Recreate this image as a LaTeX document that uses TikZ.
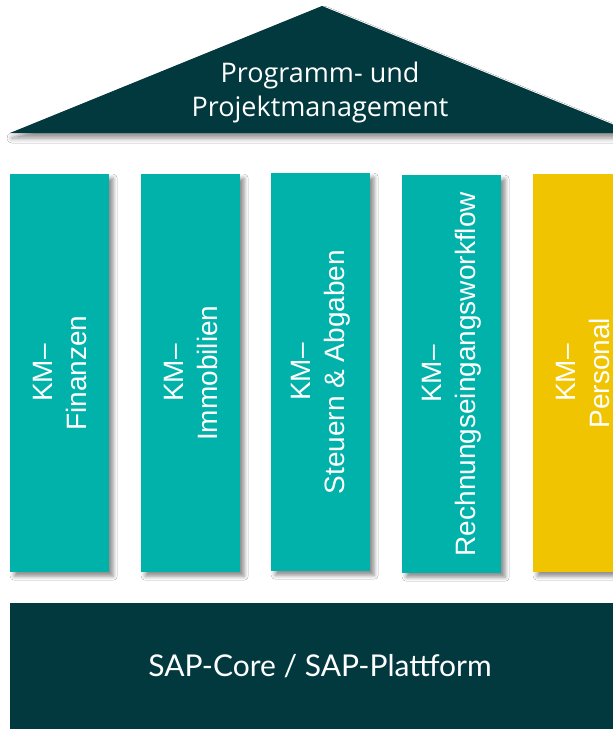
\documentclass[tikz,border=0pt]{standalone}
\usepackage{fontspec}
\setmainfont{Liberation Sans}
\newfontfamily\latofont{Lato}
\newfontfamily\openfont{Open Sans}
\usetikzlibrary{shadows.blur}
\definecolor{darkteal}{HTML}{02393F}
\definecolor{tealc}{HTML}{00B2A9}
\definecolor{goldc}{HTML}{F0C400}
\begin{document}
\begin{tikzpicture}[x=1pt,y=-1pt,
  softshadow/.style={blur shadow={shadow xshift=4pt, shadow yshift=-4pt, shadow blur radius=4pt, shadow opacity=45}},
  pillar/.style={draw=none, fill=tealc, minimum width=99pt, minimum height=398pt, inner sep=0pt, anchor=north west, softshadow},
  ptext/.style={rotate=90, text=white, align=center, inner sep=0pt, font=\fontsize{28}{34}\selectfont},
  basebox/.style={draw=none, fill=darkteal, minimum width=620pt, minimum height=140pt, inner sep=0pt, anchor=north west},
  basetextstyle/.style={text=white, font=\latofont\fontsize{30}{34}\selectfont},
  rooftext/.style={text=white, align=center, font=\openfont\fontsize{27}{34}\selectfont}]
\useasboundingbox (0,0) rectangle (613,729);
\clip (0,0) rectangle (613,729);
\fill[white] (0,0) rectangle (613,729);
% roof
\path[fill=darkteal, blur shadow={shadow xshift=2pt, shadow yshift=-5pt, shadow blur radius=5pt, shadow opacity=45}] (10,133) -- (322,6) -- (634,133) -- cycle;
\node[rooftext] (roof) at (320,92) {Programm- und\\Projektmanagement};
% pillars
\node[pillar] (p1) at (10,174) {};
\node[pillar] (p2) at (141,174) {};
\node[pillar] (p3) at (271,173) {};
\node[pillar] (p4) at (402,175) {};
\node[pillar, fill=goldc] (p5) at (533,174) {};
\node[ptext] (t1) at (p1.center) {KM–\\Finanzen};
\node[ptext] (t2) at (p2.center) {KM–\\Immobilien};
\node[ptext] (t3) at (p3.center) {KM–\\Steuern \& Abgaben};
\node[ptext] (t4) at (p4.center) {KM–\\Rechnungseingangsworkflow};
\node[ptext] (t5) at (p5.center) {KM–\\Personal};
% base
\node[basebox] (base) at (10,603) {};
\node[basetextstyle] (basetext) at (320,666) {SAP-Core / SAP-Plattform};
\end{tikzpicture}
\end{document}
